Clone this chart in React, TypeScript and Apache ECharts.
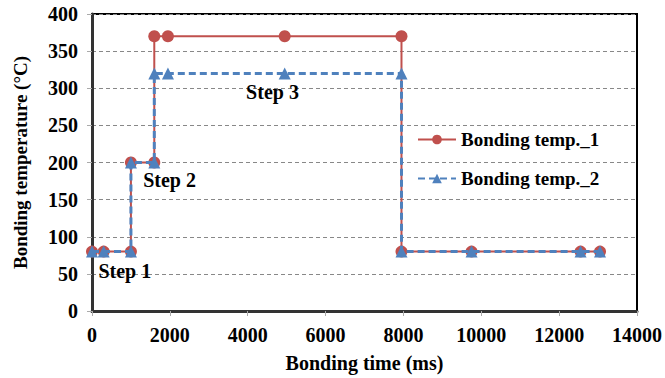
import React, { useEffect, useRef } from "react";
import * as echarts from "echarts";

const timeMs1 = [0, 300, 1000, 1000, 1600, 1600, 1950, 4950, 7950, 7950, 9750, 12550, 13050];
const temp1 = [80, 80, 80, 200, 200, 370, 370, 370, 370, 80, 80, 80, 80];
const timeMs2 = [0, 300, 1000, 1000, 1600, 1600, 1950, 4950, 7950, 7950, 9750, 12550, 13050];
const temp2 = [80, 80, 80, 200, 200, 320, 320, 320, 320, 80, 80, 80, 80];
const stepLabels = ["Step 1", "Step 2", "Step 3"];
const stepTime = [843, 1993, 4637];
const stepTemp = [54, 177, 295];

const FONT = "'Liberation Serif', 'Times New Roman', serif";

export default function App() {
  const ref = useRef<HTMLDivElement>(null);
  useEffect(() => {
    document.body.style.margin = "0";
    if (!ref.current) return;
    const chart = echarts.init(ref.current, undefined, { renderer: "svg" });
    const d1 = timeMs1.map((t, i) => [t, temp1[i]]);
    const d2 = timeMs2.map((t, i) => [t, temp2[i]]);
    const txt = { fontFamily: FONT, fontWeight: "bold", color: "#000" };
    chart.setOption({
      animation: false,
      backgroundColor: "#fff",
      textStyle: { fontFamily: FONT },
      grid: { left: 92, top: 14, right: 25, bottom: 66, show: true, borderColor: "#000", borderWidth: 2 },
      legend: {
        orient: "vertical",
        left: 417,
        top: 130,
        padding: 0,
        itemGap: 20,
        itemWidth: 38,
        itemHeight: 12,
        textStyle: { ...txt, fontSize: 19 },
        data: ["Bonding temp._1", "Bonding temp._2"],
      },
      xAxis: {
        type: "value",
        min: 0,
        max: 14000,
        interval: 2000,
        name: "Bonding time (ms)",
        nameLocation: "middle",
        nameGap: 42,
        nameTextStyle: { ...txt, fontSize: 20 },
        axisLine: { show: true, lineStyle: { color: "#333", width: 3 } },
        axisTick: { show: true, length: 5, lineStyle: { color: "#aaa" } },
        axisLabel: { ...txt, fontSize: 20, margin: 14, formatter: (v: number) => String(v) },
        splitLine: { show: false },
      },
      yAxis: {
        type: "value",
        min: 0,
        max: 400,
        interval: 50,
        name: "Bonding temperature (°C)",
        nameLocation: "middle",
        nameGap: 62,
        nameTextStyle: { ...txt, fontSize: 19 },
        axisLine: { show: true, lineStyle: { color: "#333", width: 3 } },
        axisTick: { show: true, length: 5, lineStyle: { color: "#aaa" } },
        axisLabel: { ...txt, fontSize: 20, margin: 14 },
        splitLine: { show: true, lineStyle: { color: "#888", type: [4, 3], width: 1 } },
      },
      series: [
        {
          name: "Bonding temp._1",
          type: "line",
          data: d1,
          symbol: "circle",
          symbolSize: 12,
          color: "#C0504D",
          lineStyle: { color: "#C0504D", width: 2 },
          itemStyle: { color: "#C0504D" },
          z: 2,
          markPoint: {
            symbol: "circle",
            symbolSize: 0,
            label: { show: true, position: "inside", ...txt, fontSize: 20 },
            data: stepLabels.map((s, i) => ({
              coord: [stepTime[i], stepTemp[i]],
              value: s,
              label: { formatter: s },
            })),
          },
        },
        {
          name: "Bonding temp._2",
          type: "line",
          data: d2,
          symbol: "triangle",
          symbolSize: 12,
          color: "#4F81BD",
          lineStyle: { color: "#4F81BD", width: 3, type: [7, 4] },
          itemStyle: { color: "#4F81BD" },
          z: 3,
        },
      ],
    });
    return () => chart.dispose();
  }, []);
  return <div ref={ref} style={{ width: 665, height: 378 }} />;
}
